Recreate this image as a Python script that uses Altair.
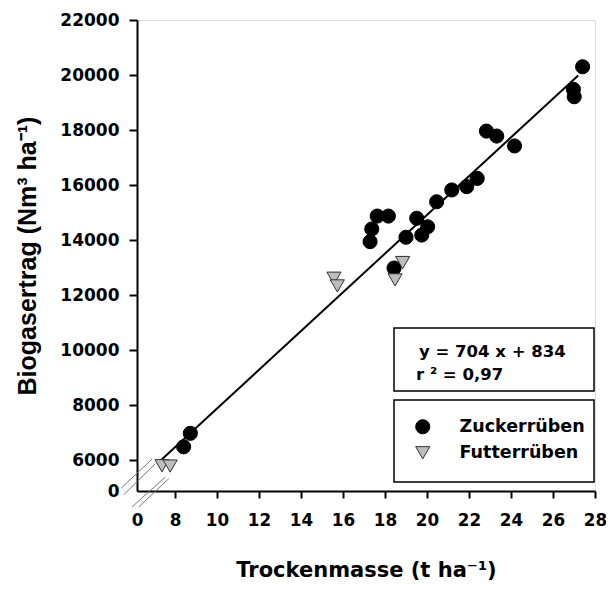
import altair as alt
import pandas as pd

# ---- data ----
zuck_x = [8.41, 8.73, 17.29, 17.37, 17.63, 18.16, 18.43, 19.0, 19.51, 19.75, 20.03,
          20.46, 21.18, 21.89, 22.39, 22.83, 23.32, 24.17, 26.97, 27.01, 27.41]
zuck_y = [6480, 6970, 13940, 14400, 14870, 14870, 12980, 14100, 14790, 14180, 14480,
          15390, 15820, 15940, 16240, 17960, 17780, 17420, 19480, 19210, 20300]
futter_x = [7.38, 7.77, 15.57, 15.73, 18.48, 18.84]
futter_y = [5790, 5780, 12610, 12330, 12550, 13180]
series_names = ["Zuckerrüben", "Futterrüben"]

slope = 704
intercept = 834
fit_x_range = [7.3, 27.2]
eq_line1 = "y = 704 x + 834"
eq_line2 = "r ² = 0,97"

x_break0 = 6.19      # position of the '0' label on the broken x axis
y_break0 = 4873      # position of the '0' label on the broken y axis
x_ticks = [x_break0, 8, 10, 12, 14, 16, 18, 20, 22, 24, 26, 28]
y_ticks = [y_break0, 6000, 8000, 10000, 12000, 14000, 16000, 18000, 20000, 22000]

# axis-break marks (decoration)
break_x1 = [5.44, 5.56, 5.95, 6.27]
break_y1 = [4982, 4738, 4291, 4291]
break_x2 = [6.90, 7.06, 7.54, 7.70]
break_y2 = [6026, 5866, 5382, 5320]

# ---- tables ----
pts = pd.DataFrame({
    "x": zuck_x + futter_x,
    "y": zuck_y + futter_y,
    "Sorte": [series_names[0]] * len(zuck_x) + [series_names[1]] * len(futter_x),
})
fit = pd.DataFrame({"x": fit_x_range, "y": [slope * v + intercept for v in fit_x_range]})
brk = pd.DataFrame({"x": break_x1, "y": break_y1, "x2": break_x2, "y2": break_y2})
one = pd.DataFrame({"a": [0]})

FONT = "DejaVu Sans"
xscale = alt.Scale(domain=[x_break0, 28], nice=False, zero=False)
yscale = alt.Scale(domain=[y_break0, 22000], nice=False, zero=False)

xaxis = alt.Axis(
    values=x_ticks,
    labelExpr="datum.value < 7 ? '0' : format(datum.value, 'd')",
    title="Trockenmasse (t ha⁻¹)",
    grid=False, domainColor="black", domainWidth=2,
    tickColor={"condition": {"test": "datum.value < 7", "value": "transparent"}, "value": "black"},
    tickWidth=2, tickSize=7,
    labelFont=FONT, labelFontSize=16.8, labelFontWeight="bold", labelColor="black",
    labelPadding=22, labelBaseline="middle", labelFlush=False, labelOverlap=False,
    titleFont=FONT, titleFontSize=21, titleFontWeight="bold", titleColor="black",
    titleX=229, titleY=79, titleBaseline="middle", titleAlign="center",
)
yaxis = alt.Axis(
    values=y_ticks,
    labelExpr="datum.value < 5000 ? '0' : format(datum.value, 'd')",
    title="Biogasertrag (Nm³ ha⁻¹)",
    grid=False, domainColor="black", domainWidth=2,
    tickColor={"condition": {"test": "datum.value < 5000", "value": "transparent"}, "value": "black"},
    tickWidth=2, tickSize=8,
    labelFont=FONT, labelFontSize=17, labelFontWeight="bold", labelColor="black",
    labelPadding=10, labelFlush=False, labelOverlap=False,
    titleFont="Liberation Sans", titleFontSize=25, titleFontWeight="bold", titleColor="black",
    titleX=-110, titleY=235.5, titleAngle=-90, titleBaseline="middle", titleAlign="center",
)

breaks = alt.Chart(brk).mark_rule(color="#7a7a7a", strokeWidth=1, clip=False).encode(
    x=alt.X("x:Q", scale=xscale, axis=xaxis),
    y=alt.Y("y:Q", scale=yscale, axis=yaxis),
    x2="x2:Q", y2="y2:Q",
)

line = alt.Chart(fit).mark_line(color="black", strokeWidth=2).encode(
    x=alt.X("x:Q", scale=xscale), y=alt.Y("y:Q", scale=yscale)
)

leg = alt.Legend(
    orient="none", legendX=277, legendY=398, title=None,
    symbolSize=200, symbolStrokeWidth=1,
    labelFont=FONT, labelFontWeight="bold", labelFontSize=17.5, labelColor="black",
    labelOffset=28, rowPadding=7, padding=0,
)
points = alt.Chart(pts).mark_point(filled=True, size=200, strokeWidth=1, opacity=1).encode(
    x=alt.X("x:Q", scale=xscale),
    y=alt.Y("y:Q", scale=yscale),
    shape=alt.Shape("Sorte:N", scale=alt.Scale(domain=series_names, range=["circle", "triangle-down"]), legend=leg),
    fill=alt.Fill("Sorte:N", scale=alt.Scale(domain=series_names, range=["black", "#bdbdbd"]), legend=leg),
    stroke=alt.Stroke("Sorte:N", scale=alt.Scale(domain=series_names, range=["black", "#333333"]), legend=leg),
)

eq_box = alt.Chart(one).mark_rect(fill="white", stroke="black", strokeWidth=1.5).encode(
    x=alt.value(257), x2=alt.value(457), y=alt.value(308), y2=alt.value(371)
)
leg_box = alt.Chart(one).mark_rect(fill="white", stroke="black", strokeWidth=1.5).encode(
    x=alt.value(257), x2=alt.value(457), y=alt.value(380), y2=alt.value(462)
)
txt1 = alt.Chart(one).mark_text(align="left", baseline="middle", font=FONT, fontWeight="bold",
                                fontSize=16.5, color="black").encode(
    x=alt.value(282), y=alt.value(331.5), text=alt.value(eq_line1))
txt2 = alt.Chart(one).mark_text(align="left", baseline="middle", font=FONT, fontWeight="bold",
                                fontSize=16.5, color="black").encode(
    x=alt.value(279), y=alt.value(354.5), text=alt.value(eq_line2))

chart = alt.layer(breaks, eq_box, leg_box, txt1, txt2, line, points).properties(
    width=458, height=471,
    autosize=alt.AutoSizeParams(type="none"),
    padding={"left": 129, "top": 12, "right": 11, "bottom": 90},
).configure_view(stroke=None).configure(background="white")

chart.save("out.html", embed_options={"renderer": "svg", "actions": False})
